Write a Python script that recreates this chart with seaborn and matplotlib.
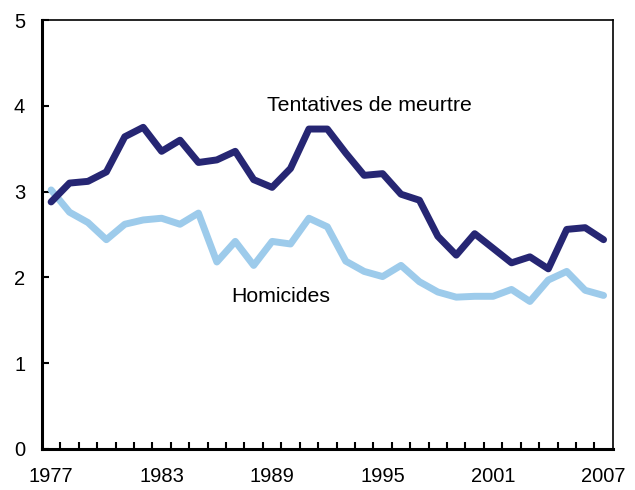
import numpy as np
import pandas as pd
import matplotlib
matplotlib.use("Agg")
import matplotlib.pyplot as plt
import seaborn as sns

# Data
years = list(range(1977, 2008))
tentatives = [2.88, 3.10, 3.12, 3.23, 3.64, 3.75, 3.47, 3.60, 3.34, 3.37,
              3.47, 3.14, 3.05, 3.27, 3.73, 3.73, 3.45, 3.19, 3.21, 2.97,
              2.90, 2.48, 2.26, 2.51, 2.34, 2.17, 2.24, 2.10, 2.56, 2.58,
              2.44]
homicides = [3.02, 2.76, 2.64, 2.44, 2.62, 2.67, 2.69, 2.62, 2.75, 2.18,
             2.42, 2.14, 2.42, 2.39, 2.69, 2.59, 2.19, 2.07, 2.01, 2.14,
             1.95, 1.83, 1.77, 1.78, 1.78, 1.86, 1.72, 1.97, 2.07, 1.85,
             1.79]
label_years = [1977, 1983, 1989, 1995, 2001, 2007]
y_ticks = [0, 1, 2, 3, 4, 5]

sns.set_style("white")
plt.rcParams['font.family'] = ['Liberation Sans', 'DejaVu Sans']
plt.rcParams['text.color'] = 'black'
plt.rcParams['xtick.color'] = 'black'
plt.rcParams['ytick.color'] = 'black'

df = pd.DataFrame({"Année": years, "Tentatives": tentatives, "Homicides": homicides})

fig = plt.figure(figsize=(6.35, 4.9), dpi=100)
ax = fig.add_axes([0.066, 0.0837, 0.899, 0.8753])

sns.lineplot(data=df, x="Année", y="Homicides", ax=ax, color="#9dcbeb", linewidth=5)
sns.lineplot(data=df, x="Année", y="Tentatives", ax=ax, color="#262673", linewidth=5)

ax.set_xlim(1976.5, 2007.5)
ax.set_ylim(0, 5)
ax.set_xlabel("")
ax.set_ylabel("")

ax.set_xticks(label_years)
ax.set_xticklabels([str(y) for y in label_years])
ax.set_xticks(np.arange(1977.5, 2007, 1.0), minor=True)
ax.tick_params(axis="x", which="major", length=0, pad=13, labelsize=14.5)
ax.tick_params(axis="x", which="minor", direction="in", length=5, width=1.5, bottom=True)

ax.set_yticks(y_ticks)
ax.tick_params(axis="y", direction="in", length=5, width=1.5, pad=12, labelsize=14.5, left=True)

for side in ["left", "bottom"]:
    ax.spines[side].set_linewidth(2.2)
for side in ["top", "right"]:
    ax.spines[side].set_linewidth(1.2)
for s in ax.spines.values():
    s.set_color("black")
    s.set_visible(True)

ax.text(1988.7, 4.0, "Tentatives de meurtre", fontsize=15.3, va="center", ha="left")
ax.text(1986.8, 1.78, "Homicides", fontsize=15.3, va="center", ha="left")

fig.savefig("out.png", dpi=100)
